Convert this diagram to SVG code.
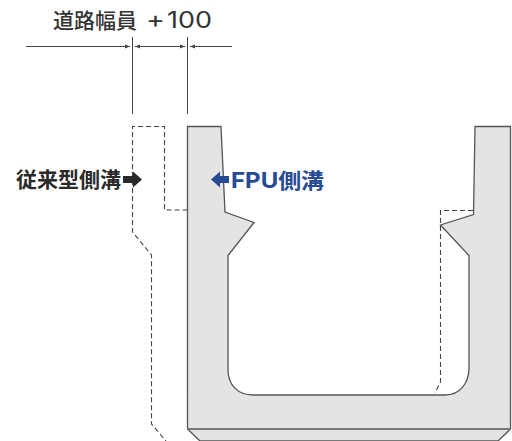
<svg xmlns="http://www.w3.org/2000/svg" width="512" height="441" viewBox="0 0 512 441">
<style>
.dim{fill:none;stroke:#444;stroke-width:1}
.dash{fill:none;stroke:#444;stroke-width:1.1;stroke-dasharray:5 3}
.t{font-family:"Noto Sans CJK JP","Noto Sans",sans-serif;font-weight:500}
</style>
<defs>
<marker id="a" markerUnits="userSpaceOnUse" markerWidth="6" markerHeight="5" refX="5" refY="2.5" orient="auto-start-reverse"><path d="M0 0.5L5 2.5L0 4.500Z" fill="#444"/></marker>
</defs>
<g id="culvert">
<path d="M187.500 126.500H221L225 212L254 222.500L228 255.500V370C228 385 238 395 253 395H445C460 395 469 383 469 368V255.500L440.500 225L473.500 214.500L475 126.500H510.500V429L498 441H200L187.500 429Z" fill="#e4e4e4" stroke="#555" stroke-width="1.300"/>
<path d="M187.500 429H510.500" fill="none" stroke="#777" stroke-width="2"/>
</g>
<g id="connectors">
<path class="dim" d="M132.500 37V114M187.500 37V114"/>
<path class="dim" d="M26 46.500H130" marker-end="url(#a)"/>
<path class="dim" d="M135 46.500H185" marker-start="url(#a)" marker-end="url(#a)"/>
<path class="dim" d="M190 46.500H232" marker-start="url(#a)"/>
<path class="dash" d="M187.500 210H164.500V126.500H132.500V232L151.500 255V424L166 441"/>
<path class="dash" d="M473 210.500H440.500V382L435 393"/>
</g>
<g id="label-width"><text class="t" x="53" y="28" font-size="21" fill="#333" textLength="84" lengthAdjust="spacingAndGlyphs">道路幅員</text><text font-size="23" fill="#333" font-family="Inter,'Noto Sans',sans-serif" font-weight="400" y="28"><tspan x="146" textLength="19" lengthAdjust="spacingAndGlyphs">+</tspan><tspan x="167" textLength="45" lengthAdjust="spacingAndGlyphs">100</tspan></text></g>
<g id="label-old"><text class="t" x="16" y="187" font-size="21" fill="#2a2a2a" style="font-weight:700" textLength="105" lengthAdjust="spacingAndGlyphs">従来型側溝</text>
<path d="M123 176H133V171.500L142 179.500L133 187.500V183H123Z" fill="#2a2a2a"/></g>
<g id="label-fpu"><path d="M229 176H220V171.500L211 179.500L220 187.500V183H229Z" fill="#264b94"/>
<text class="t" x="231" y="188" font-size="21" fill="#264b94" style="font-weight:700" textLength="93" lengthAdjust="spacingAndGlyphs"><tspan font-family="Inter,sans-serif" font-size="22">FPU</tspan>側溝</text></g>
</svg>
